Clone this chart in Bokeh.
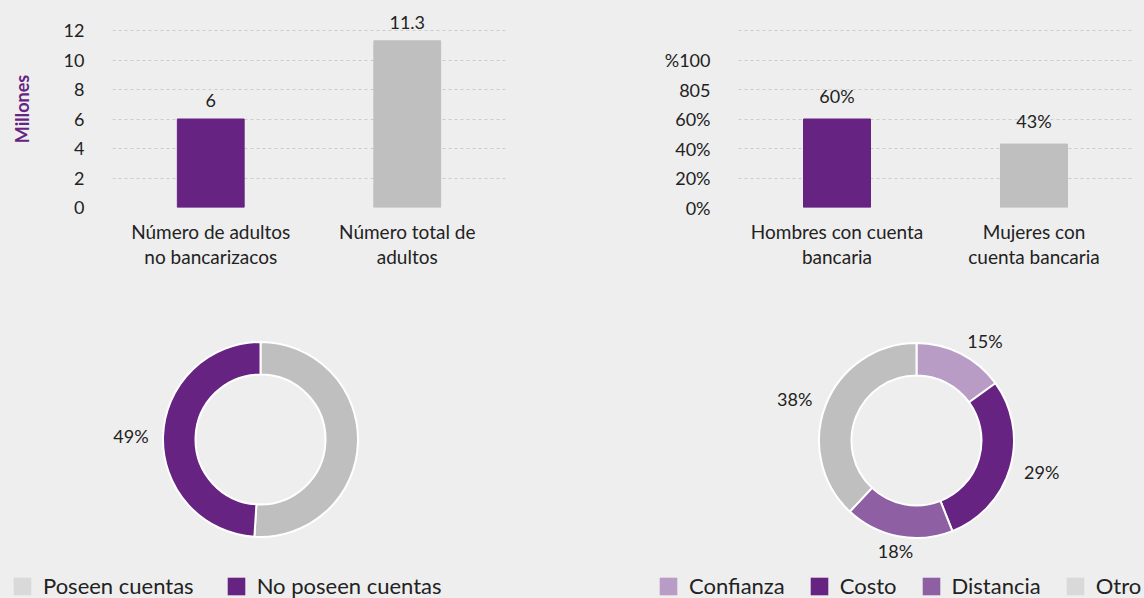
import math
from bokeh.plotting import figure
from bokeh.layouts import column, row
from bokeh.models import (ColumnDataSource, Range1d, FixedTicker,
                          Legend, LegendItem, LinearAxis)
from bokeh.core.properties import value
from bokeh.embed import file_html
from bokeh.resources import INLINE

# ---------------- data ----------------
adult_cats = ["Número de adultos no bancarizacos", "Número total de adultos"]
adult_vals = [6.0, 11.3]
adult_text = ["6", "11.3"]
adult_line1 = ["Número de adultos", "Número total de"]
adult_line2 = ["no bancarizacos", "adultos"]
adult_ticks = [0, 2, 4, 6, 8, 10, 12]

gender_cats = ["Hombres con cuenta bancaria", "Mujeres con cuenta bancaria"]
gender_vals = [60, 43]
gender_text = ["60%", "43%"]
gender_line1 = ["Hombres con cuenta", "Mujeres con"]
gender_line2 = ["bancaria", "cuenta bancaria"]
gender_ticks = [0, 20, 40, 60, 80, 100, 120]
gender_tick_labels = ["0%", "20%", "40%", "60%", "805", "%100", ""]

acct_names = ["Poseen cuentas", "No poseen cuentas"]
acct_vals = [51, 49]
acct_text = ["", "49%"]

reason_names = ["Confianza", "Costo", "Distancia", "Otro"]
reason_vals = [15, 29, 18, 38]
reason_text = ["15%", "29%", "18%", "38%"]

# ---------------- style ----------------
BG = "#eeeeee"
PURPLE = "#662382"
GREY = "#bfbfbf"
TXT = "#222222"
FONT = "Lato"
bar_colors = [PURPLE, GREY]
acct_colors = [GREY, PURPLE]
acct_legend_colors = ["#d9d9d9", PURPLE]
reason_colors = ["#b89cc6", PURPLE, "#8e5fa3", GREY]
reason_legend_colors = ["#b89cc6", PURPLE, "#8e5fa3", "#d9d9d9"]


def style_axis(ax, size="17px"):
    ax.axis_line_color = None
    ax.major_tick_line_color = None
    ax.minor_tick_line_color = None
    ax.major_label_text_font = FONT
    ax.major_label_text_font_size = size
    ax.major_label_text_color = TXT


def bar_fig(cats, vals, texts, line1, line2, ticks, tick_labels, ymax,
            width, left, frame_w, ylabel=None):
    n = len(cats)
    xs = [i + 0.5 for i in range(n)]
    px_per = 177.0 / ymax
    yend = ymax + 20.0 / px_per
    p = figure(x_range=Range1d(0, n), y_range=Range1d(0, yend),
               width=width, height=300, output_backend="svg", toolbar_location=None,
               background_fill_color=BG, border_fill_color=BG, outline_line_color=None,
               min_border_left=left, min_border_right=width - left - frame_w,
               min_border_top=10, min_border_bottom=93)
    p.frame_width = frame_w
    p.frame_height = 197
    src = ColumnDataSource(dict(x=xs, cat=cats, val=vals, txt=texts, color=bar_colors))
    p.vbar(x="x", top="val", width=0.34, color="color", source=src)
    p.text(x="x", y="val", text="txt", source=src, text_align="center",
           text_baseline="bottom", y_offset=-12, text_font=value(FONT),
           text_font_size="18px", text_color=TXT)
    p.xgrid.grid_line_color = None
    p.ygrid.grid_line_color = "#cccccc"
    p.ygrid.grid_line_dash = "3 3"
    p.ygrid.grid_line_width = 1
    p.yaxis.ticker = FixedTicker(ticks=ticks)
    if tick_labels is not None:
        p.yaxis.major_label_overrides = {t: l for t, l in zip(ticks, tick_labels)}
    p.xaxis.ticker = FixedTicker(ticks=xs)
    p.xaxis.major_label_overrides = dict(zip(xs, line1))
    style_axis(p.xaxis[0], "19px")
    style_axis(p.yaxis[0], "18px")
    p.yaxis.major_label_standoff = 22
    p.xaxis.major_label_standoff = 6
    ax2 = LinearAxis(ticker=FixedTicker(ticks=xs),
                     major_label_overrides=dict(zip(xs, line2)))
    style_axis(ax2, "19px")
    ax2.major_label_standoff = -7
    p.add_layout(ax2, "below")
    if ylabel:
        p.yaxis.axis_label = ylabel
        p.yaxis.axis_label_text_font = FONT
        p.yaxis.axis_label_text_font_size = "18px"
        p.yaxis.axis_label_text_font_style = "bold"
        p.yaxis.axis_label_text_color = PURPLE
        p.yaxis.axis_label_standoff = 28
    return p


p1 = bar_fig(adult_cats, adult_vals, adult_text, adult_line1, adult_line2, adult_ticks,
             None, 12, 568, 112, 393, ylabel="Millones")
p2 = bar_fig(gender_cats, gender_vals, gender_text, gender_line1, gender_line2,
             gender_ticks, gender_tick_labels, 120, 576, 170, 394)

# ---------------- donuts ----------------
p3 = figure(x_range=Range1d(0, 1144), y_range=Range1d(0, 298), width=1144, height=298,
            output_backend="svg", toolbar_location=None, background_fill_color=BG,
            border_fill_color=BG, outline_line_color=None, min_border=0)
p3.frame_width = 1144
p3.frame_height = 298
p3.axis.visible = False
p3.grid.visible = False


def donut(names, vals, texts, colors, legend_colors, cx, cy, rlab):
    tot = float(sum(vals))
    cum = 0.0
    starts, ends, lx, ly, al = [], [], [], [], []
    for v in vals:
        a0 = math.pi / 2 - 2 * math.pi * cum / tot
        cum += v
        a1 = math.pi / 2 - 2 * math.pi * cum / tot
        starts.append(a1)
        ends.append(a0)
        mid = (a0 + a1) / 2
        c = math.cos(mid)
        lx.append(cx + rlab * c)
        ly.append(cy + rlab * math.sin(mid))
        al.append("left" if c > 0.3 else ("right" if c < -0.3 else "center"))
    src = ColumnDataSource(dict(name=names, s=starts, e=ends, color=colors, txt=texts,
                                lx=lx, ly=ly, al=al,
                                x=[cx] * len(vals), y=[cy] * len(vals)))
    p3.annular_wedge(x="x", y="y", inner_radius=65, outer_radius=97.5, start_angle="s",
                     end_angle="e", fill_color="color", line_color="white", line_width=2,
                     source=src)
    p3.text(x="lx", y="ly", text="txt", source=src, text_align="al",
            text_baseline="middle", text_font=value(FONT), text_font_size="18px",
            text_color=TXT)
    items = []
    for n, c in zip(names, legend_colors):
        r = p3.quad(left=[cx], right=[cx], top=[cy], bottom=[cy], fill_color=c,
                    line_color=None)
        items.append(LegendItem(label=n, renderers=[r]))
    return items


def make_legend(items, x0, spacing):
    leg = Legend(items=items, orientation="horizontal", location=(x0, -1),
                 glyph_width=22, glyph_height=22, label_standoff=10, spacing=spacing,
                 label_text_font=FONT, label_text_font_size="22px",
                 label_text_color=TXT, padding=0, margin=0,
                 border_line_color=None, background_fill_alpha=0)
    p3.add_layout(leg)
    return leg


items_a = donut(acct_names, acct_vals, acct_text, acct_colors, acct_legend_colors,
                260, 159, 112)
items_r = donut(reason_names, reason_vals, reason_text, reason_colors,
                reason_legend_colors, 916, 158, 112)
make_legend(items_a, 11, 31)
make_legend(items_r, 657, 23)

layout = column(row(p1, p2, spacing=0), p3, spacing=0)
layout.styles = {"background-color": BG}
open("out.html", "w").write(file_html(layout, INLINE))
